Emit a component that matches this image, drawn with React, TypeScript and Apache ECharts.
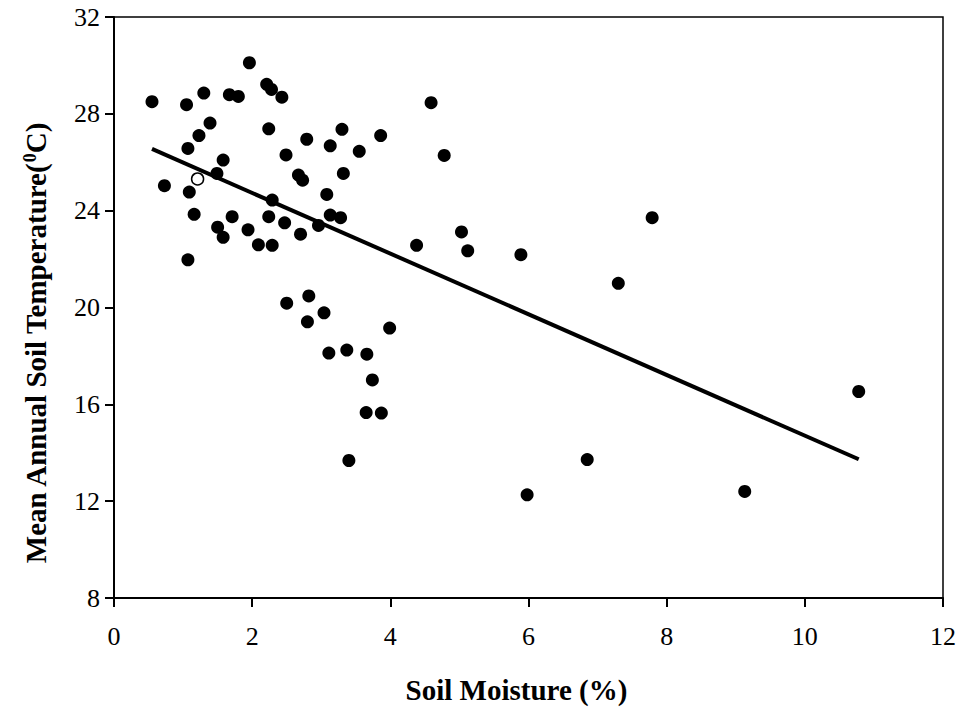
import React, { useEffect, useRef } from "react";
import * as echarts from "echarts";

const moistureFilled = [
  0.55, 1.05, 1.30, 1.67, 1.80, 1.96, 2.21, 2.28, 2.43, 1.39, 1.23, 1.07, 1.58, 1.49, 0.73, 1.09,
  2.24, 2.49, 2.79, 3.13, 3.30, 2.67, 2.73, 3.32, 3.08, 2.29, 1.16, 1.71, 1.50, 1.58, 1.94, 2.09,
  2.24, 2.29, 2.47, 2.70, 2.96, 3.13, 3.28, 1.07, 2.50, 2.82, 2.80, 3.04, 3.11, 3.37, 4.59, 3.86,
  3.55, 4.78, 4.38, 5.03, 5.12, 3.99, 3.66, 3.74, 3.65, 3.87, 3.40, 7.79, 5.89, 7.30, 10.78, 6.85,
  5.98, 9.13,
];
const temperatureFilled = [
  28.50, 28.38, 28.86, 28.79, 28.72, 30.11, 29.22, 29.01, 28.69, 27.62, 27.10, 26.57, 26.09, 25.54, 25.03, 24.77,
  27.38, 26.30, 26.95, 26.68, 27.36, 25.47, 25.26, 25.54, 24.67, 24.44, 23.85, 23.75, 23.32, 22.90, 23.21, 22.59,
  23.75, 22.57, 23.50, 23.03, 23.39, 23.82, 23.71, 21.97, 20.18, 20.48, 19.41, 19.78, 18.12, 18.24, 28.46, 27.10,
  26.45, 26.28, 22.57, 23.12, 22.34, 19.15, 18.07, 17.01, 15.66, 15.64, 13.68, 23.71, 22.18, 21.00, 16.53, 13.72,
  12.26, 12.40,
];
const moistureOpen = [1.21];
const temperatureOpen = [25.31];
const fitX = [0.55, 10.78];
const fitY = [26.55, 13.73];

const xTicks = [0, 2, 4, 6, 8, 10, 12];
const yTicks = [8, 12, 16, 20, 24, 28, 32];

const FONT = "Liberation Serif, Times New Roman, serif";

export default function App() {
  const ref = useRef<HTMLDivElement>(null);
  useEffect(() => {
    document.body.style.margin = "0";
    if (!ref.current) return;
    const chart = echarts.init(ref.current, null, { renderer: "svg" });
    const filled = moistureFilled.map((x, i) => [x, temperatureFilled[i]]);
    const open = moistureOpen.map((x, i) => [x, temperatureOpen[i]]);
    const fit = fitX.map((x, i) => [x, fitY[i]]);
    chart.setOption({
      animation: false,
      backgroundColor: "#ffffff",
      grid: {
        left: 114,
        right: 20,
        top: 17,
        bottom: 111,
        show: true,
        borderColor: "#000",
        borderWidth: 1.5,
        backgroundColor: "transparent",
      },
      xAxis: {
        type: "value",
        min: xTicks[0],
        max: xTicks[xTicks.length - 1],
        interval: 2,
        name: "Soil Moisture (%)",
        nameLocation: "middle",
        nameGap: 77,
        nameTextStyle: {
          fontFamily: FONT,
          fontSize: 29,
          fontWeight: "bold",
          color: "#000",
          padding: [0, 24, 0, 0],
        },
        axisLine: { show: true, lineStyle: { color: "#000", width: 2 } },
        axisTick: { show: true, inside: false, length: 9, lineStyle: { color: "#000", width: 2 } },
        axisLabel: { fontFamily: FONT, fontSize: 26, color: "#000", margin: 25 },
        splitLine: { show: false },
      },
      yAxis: {
        type: "value",
        min: yTicks[0],
        max: yTicks[yTicks.length - 1],
        interval: 4,
        name: "Mean Annual Soil Temperature({sup|0}C)",
        nameLocation: "middle",
        nameGap: 64,
        nameTextStyle: {
          fontFamily: FONT,
          fontSize: 29,
          fontWeight: "bold",
          color: "#000",
          padding: [0, 72, 0, 0],
          rich: {
            sup: {
              fontFamily: FONT,
              fontSize: 18,
              fontWeight: "bold",
              color: "#000",
              verticalAlign: "top",
              padding: [0, 0, 10, 0],
            },
          },
        },
        axisLine: { show: true, lineStyle: { color: "#000", width: 2 } },
        axisTick: { show: true, inside: false, length: 9, lineStyle: { color: "#000", width: 2 } },
        axisLabel: { fontFamily: FONT, fontSize: 26, color: "#000", margin: 14 },
        splitLine: { show: false },
      },
      series: [
        {
          type: "line",
          data: fit,
          symbol: "none",
          lineStyle: { color: "#000", width: 4 },
          z: 1,
        },
        {
          type: "scatter",
          data: filled,
          symbol: "circle",
          symbolSize: 13,
          itemStyle: { color: "#000", opacity: 1 },
          z: 2,
        },
        {
          type: "scatter",
          data: open,
          symbol: "circle",
          symbolSize: 12,
          itemStyle: { color: "#fff", borderColor: "#000", borderWidth: 1.5, opacity: 1 },
          z: 3,
        },
      ],
    });
    return () => chart.dispose();
  }, []);
  return <div ref={ref} style={{ width: 963, height: 709 }} />;
}
